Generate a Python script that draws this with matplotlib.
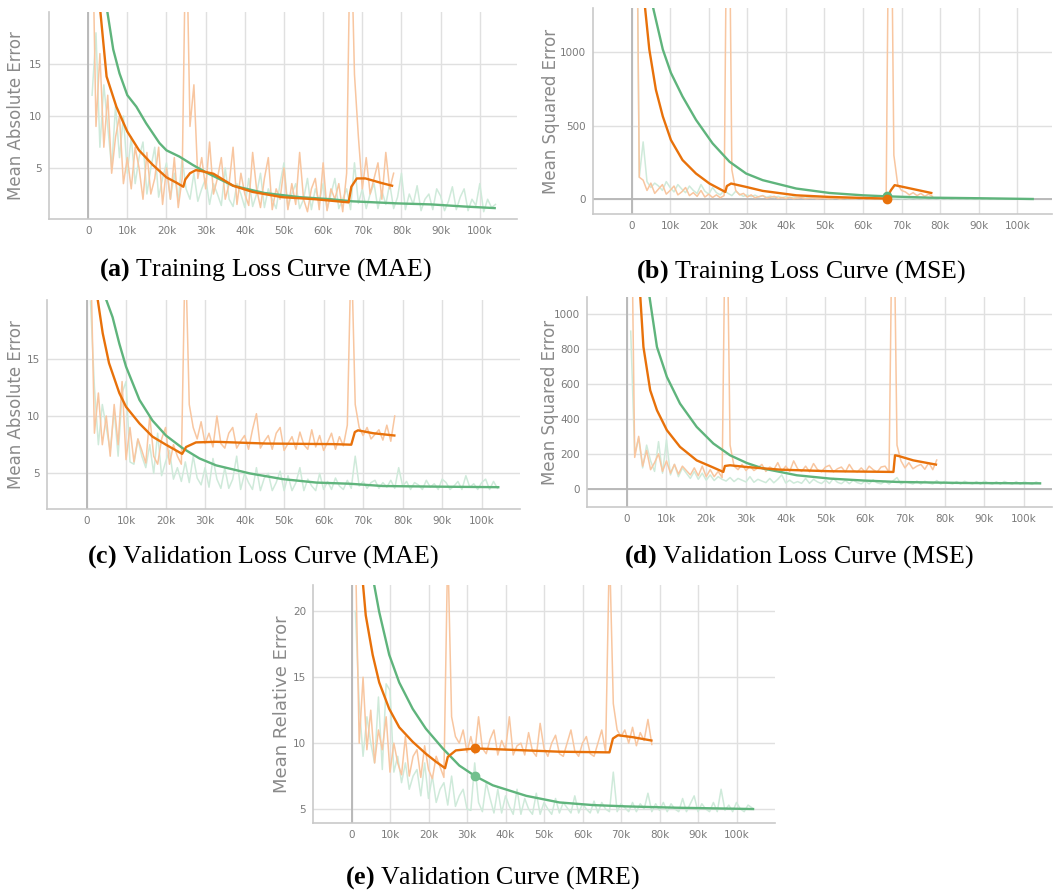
import matplotlib

matplotlib.use("Agg")
import matplotlib.pyplot as plt

plt.rcParams["mathtext.fontset"] = "custom"
plt.rcParams["mathtext.rm"] = "Liberation Serif"
plt.rcParams["mathtext.bf"] = "Liberation Serif:bold"

ORANGE = "#e8710a"
GREEN = "#5fb47c"
ORANGE_RAW = "#f8c6a0"
GREEN_RAW = "#cfeada"

# logged steps of the raw curves (thousands of steps)
orange_raw_steps = list(range(1, 79))
green_raw_steps = list(range(1, 105))

# ---- (a) training MAE ----
a_orange_raw = [
    30, 9, 16, 7, 12, 4.5, 8, 10, 3.5, 6,
    3, 7, 5, 2, 6.5, 2.5, 4, 7, 1.5, 5,
    2, 6, 1.2, 4, 30, 9, 13, 4, 6, 3,
    7.5, 2.5, 4, 6, 2, 3.5, 7, 1.5, 4.5, 2.5,
    1.4, 6.5, 3, 1.2, 4, 6, 1.0, 3, 2, 5,
    1, 3.5, 1.5, 6.5, 2, 0.8, 3, 4, 1, 5.5,
    0.9, 3, 2, 3.5, 0.8, 4.5, 30, 14, 8, 3,
    6, 2.5, 4, 5.5, 2, 6.5, 3, 4.5,
]
a_green_raw = [
    12, 18, 7, 13, 9, 5, 11, 6, 10, 4.5,
    8, 3.5, 6, 7.5, 2.5, 5, 7, 2.2, 4, 5.5,
    2, 4.5, 1.8, 6, 3, 2, 4.5, 1.8, 3, 4,
    1.5, 3.5, 2.5, 1.4, 5, 2, 1.3, 3.5, 2.5, 1.2,
    4, 1.3, 2.5, 4.5, 1.2, 3, 2, 1.1, 3.5, 5.5,
    1.2, 2.5, 3.5, 1.1, 2, 4, 1.0, 3, 1.8, 3.5,
    1.0, 2.5, 4, 1.1, 2, 3, 1.0, 5.5, 1.6, 3,
    1.1, 2.5, 3.5, 1.1, 2.8, 1.5, 3.5, 1.1, 2.2, 4.5,
    1.0, 2.5, 1.5, 3.3, 0.9, 2, 2.5, 1.0, 3, 2.3,
    0.9, 1.8, 3.2, 1.0, 2.2, 3, 0.9, 2, 1.4, 3.5,
    0.8, 2, 1.2, 1.5,
]
a_orange_steps = [2.5, 3.0, 4.7, 7.2, 10, 13, 16.5, 20, 22.5, 24.3, 24.8, 26, 27.5,
                  29, 32, 37, 42, 49.5, 58, 66.5, 67.2, 68.6, 70.8, 75, 77.6]
a_orange_vals = [26, 20.5, 13.8, 10.9, 8.5, 6.7, 5.3, 4.1, 3.6, 3.2, 3.9, 4.5, 4.8,
                 4.7, 4.45, 3.3, 2.7, 2.2, 2.0, 1.7, 3.2, 4.0, 4.0, 3.55, 3.3]
a_green_steps = [3.5, 4.7, 6.4, 8, 10, 12.3, 14.8, 18.2, 20, 23.3, 26.7, 30, 37, 45,
                 54, 62, 67.4, 79, 87.7, 96, 103.8]
a_green_vals = [26, 20.5, 16.4, 14.1, 12, 10.9, 9.3, 7.4, 6.7, 6.1, 5.3, 4.6, 3.3, 2.6,
                2.2, 2.0, 1.8, 1.6, 1.5, 1.3, 1.15]

# ---- (b) training MSE ----
b_orange_raw = [
    3000, 150, 130, 60, 110, 40, 70, 100, 35, 60,
    90, 30, 50, 80, 25, 45, 20, 60, 15, 35,
    12, 30, 10, 25, 3000, 200, 60, 30, 40, 15,
    30, 10, 18, 25, 8, 14, 20, 6, 12, 5,
    14, 4, 9, 12, 4, 7, 10, 3, 6, 8,
    3, 6, 8, 2, 5, 7, 2, 4, 6, 2,
    5, 2, 4, 6, 1, 4, 3000, 300, 100, 60,
    50, 30, 45, 25, 40, 20, 35, 20,
]
b_green_raw = [
    3000, 150, 390, 120, 80, 110, 90, 60, 120, 80,
    50, 100, 70, 45, 90, 60, 40, 100, 55, 35,
    80, 45, 30, 60, 40, 25, 55, 35, 20, 30,
    18, 28, 15, 25, 14, 22, 12, 20, 10, 18,
    10, 16, 9, 15, 8, 14, 7, 12, 7, 11,
    9, 5, 8, 5, 8, 4, 7, 4, 7, 4,
    6, 3, 6, 3, 6, 3, 5, 3, 5, 3,
    5, 2, 5, 2, 4, 2, 4, 2, 4, 2,
    4, 2, 4, 2, 3, 2, 3, 1, 3, 1,
    3, 1, 3, 1, 3, 1, 2, 1, 2, 1,
    2, 1, 2, 1,
]
b_orange_steps = [2.5, 3.5, 4.6, 6.3, 8.1, 10.2, 13.2, 16.7, 20.2, 24.3, 24.7, 25.8,
                  29.7, 34, 42.7, 51.3, 60, 66.2, 67.2, 68.2, 70.4, 77.7]
b_orange_vals = [2500, 1300, 1018, 745, 563, 403, 267, 175, 107, 50, 90, 107,
                 84, 57, 27, 16, 9, 5, 60, 96, 84, 43]
b_green_steps = [4.5, 5.6, 8.1, 10.2, 13.2, 16.7, 21, 25.4, 29.7, 34, 42.7, 51.3,
                 60, 66.2, 77.3, 90.3, 104]
b_green_vals = [1700, 1300, 1018, 859, 699, 540, 380, 255, 175, 130, 73, 43,
                27, 20, 11, 7, 2]
b_dot_step = 66.2
b_dot_orange = 5
b_dot_green = 20

# ---- (c) validation MAE ----
c_orange_raw = [
    25, 8.5, 12, 7.5, 10, 6.5, 11, 7.5, 13, 6.2,
    9, 6, 8, 7, 5.9, 10, 6.5, 5.8, 8, 9,
    5.8, 7.5, 6.5, 5.8, 25, 11, 9, 8, 9.5, 7.6,
    8.5, 7.3, 10, 7.6, 7.2, 8.5, 9, 7.2, 7.8, 8.3,
    7.1, 8.8, 10.2, 7.2, 7.8, 8.3, 7.1, 8.5, 9, 7,
    7.6, 8.2, 7.1, 8.6, 7.5, 7.1, 8.8, 7.3, 8.3, 7,
    7.7, 8.5, 7.1, 8.2, 7.4, 9.2, 25, 11, 9, 8.3,
    9, 8, 8.4, 8.8, 7.9, 9.2, 7.8, 10,
]
c_green_raw = [
    20, 12.5, 7.5, 11, 9, 7, 10.5, 6.5, 12, 13,
    6, 5.8, 8, 6.5, 5.5, 7.5, 5, 8.5, 4.8, 6,
    7, 4.5, 5.5, 4.3, 6, 4.2, 6.5, 4.6, 4.0, 5.5,
    3.8, 6.3, 4.5, 3.7, 5.5, 3.7, 4.5, 6.5, 3.6, 5,
    4.2, 3.6, 5.5, 3.5, 4.6, 5, 3.5, 4.2, 5.2, 3.5,
    4.8, 3.5, 4.2, 5.5, 3.5, 4.5, 3.9, 3.5, 5, 3.6,
    4.3, 3.6, 4.6, 3.9, 3.6, 4.4, 3.7, 6.5, 3.9, 4.3,
    3.7, 4.2, 4.4, 3.7, 4.2, 3.8, 4.4, 3.7, 5.5, 3.9,
    4.3, 3.6, 4.2, 4.0, 3.6, 4.4, 3.8, 4.1, 3.6, 4.5,
    4.2, 3.6, 3.9, 4.3, 3.6, 4.8, 3.8, 4.1, 3.6, 4.2,
    4.5, 3.6, 4.3, 3.7,
]
c_orange_steps = [2.0, 2.8, 4.1, 5.7, 8.3, 10, 13.4, 16.7, 20.1, 24.2, 25.2, 27.7,
                  32.8, 45.5, 62.4, 67.0, 67.9, 68.7, 72.5, 77.9]
c_orange_vals = [26, 20.2, 17.2, 14.6, 12, 10.8, 9.35, 8.2, 7.5, 6.7, 7.3, 7.7,
                 7.75, 7.6, 7.55, 7.5, 8.6, 8.75, 8.5, 8.3]
c_green_steps = [4.0, 4.9, 6.6, 8.3, 10, 13.4, 16.7, 20.1, 24.3, 28.6, 32.8, 41.3,
                 49.7, 58.2, 66.6, 75, 87.7, 104.2]
c_green_vals = [23, 20.2, 18.6, 16.3, 14.3, 11.4, 9.6, 8.3, 7.2, 6.3, 5.7, 5.0,
                4.5, 4.2, 4.1, 3.9, 3.85, 3.8]

# ---- (d) validation MSE ----
d_orange_raw = [
    2000, 180, 300, 130, 220, 110, 150, 200, 100, 160,
    90, 140, 85, 130, 105, 80, 120, 75, 130, 70,
    110, 70, 100, 65, 2000, 250, 130, 110, 140, 105,
    130, 105, 120, 140, 100, 125, 110, 150, 100, 130,
    100, 160, 115, 100, 130, 98, 145, 110, 98, 125,
    135, 97, 115, 125, 97, 140, 105, 97, 120, 96,
    130, 110, 96, 125, 130, 96, 2000, 250, 160, 120,
    150, 115, 130, 140, 112, 150, 110, 165,
]
d_green_raw = [
    900, 200, 290, 120, 250, 160, 100, 270, 90, 280,
    80, 140, 70, 120, 90, 60, 100, 55, 90, 50,
    80, 48, 70, 55, 45, 65, 42, 60, 50, 40,
    70, 38, 55, 45, 36, 60, 35, 55, 80, 34,
    50, 33, 42, 32, 60, 32, 55, 40, 31, 50,
    31, 60, 38, 30, 48, 30, 50, 36, 29, 45,
    29, 52, 35, 29, 44, 28, 46, 65, 28, 42,
    35, 28, 45, 28, 44, 34, 28, 48, 28, 43,
    33, 28, 42, 28, 44, 34, 28, 42, 27, 45,
    33, 27, 41, 27, 43, 34, 27, 42, 27, 41,
    33, 26, 40, 30,
]
d_orange_steps = [2.6, 3.4, 4.2, 5.9, 7.6, 10.1, 13.4, 17.6, 21.8, 24.3, 24.7, 26,
                  30.2, 38.6, 51.2, 67.1, 67.5, 68.4, 72.1, 77.8]
d_orange_vals = [1400, 1100, 810, 563, 449, 335, 240, 163, 122, 97, 131, 135,
                 125, 110, 101, 97, 192, 188, 163, 139]
d_green_steps = [5.0, 5.7, 7.6, 10.1, 13.4, 17.6, 21.8, 26, 30.2, 34.4, 42.8, 51.2,
                 59.6, 68, 84.7, 104]
d_green_vals = [1300, 1100, 810, 639, 487, 354, 259, 192, 148, 116, 78, 59,
                48, 40, 34, 32]

# ---- (e) validation MRE ----
e_orange_raw = [
    25, 10, 15, 9.5, 12.5, 8.5, 11, 9.5, 12, 7.8,
    10, 8.5, 7.6, 10.5, 7.5, 9, 9.5, 7.4, 9.8, 8,
    7.3, 9, 8.2, 7.4, 25, 12, 10.5, 10, 11, 9.3,
    10.5, 9.2, 12, 9.6, 9.2, 10.3, 11, 9.1, 10.2, 9.5,
    12, 9.1, 9.8, 10, 9.1, 10.8, 9.4, 9, 11.5, 9.6,
    9, 10, 10.6, 9.2, 9, 10, 11, 9.4, 9, 10,
    10.5, 9.2, 9, 10, 11, 9.3, 25, 13, 11, 10.5,
    11, 10, 11.2, 9.8, 10.8, 10.2, 11.8, 9.9,
]
e_green_raw = [
    20, 13, 9, 12, 10, 8.5, 13.5, 8, 14.5, 14,
    7.8, 9, 7, 8.5, 6.5, 7.5, 8, 6, 8.5, 5.8,
    7.5, 5.5, 6.5, 7, 5.3, 7.5, 5.2, 6, 6.5, 5,
    4.9, 8.5, 5.5, 4.8, 7, 5.8, 4.7, 6.5, 4.7, 6,
    5.2, 4.6, 6.5, 4.6, 5.8, 5.0, 4.6, 6.2, 4.6, 5.5,
    5.0, 4.6, 5.8, 4.7, 5.5, 5.1, 4.7, 6.0, 4.7, 5.4,
    5.0, 4.7, 5.6, 4.7, 5.5, 5.0, 4.8, 7.8, 4.8, 5.4,
    5.1, 4.8, 5.5, 4.8, 5.4, 5.0, 6.2, 4.8, 5.4, 4.9,
    5.5, 4.8, 5.4, 5.0, 4.8, 5.8, 4.8, 5.4, 6.0, 4.8,
    5.4, 5.0, 4.8, 5.5, 4.8, 6.5, 4.9, 5.3, 4.8, 5.5,
    5.0, 4.8, 5.3, 5.1,
]
e_orange_steps = [2.5, 3.0, 3.7, 5.5, 7.2, 9.8, 12.4, 15.9, 19.3, 21.9, 24.3, 25.0,
                  27.1, 32.1, 41, 54, 67, 67.9, 69.2, 73.1, 77.9]
e_orange_vals = [25, 22, 19.7, 16.7, 14.6, 12.6, 11.2, 10.1, 9.2, 8.6, 8.1, 8.95,
                 9.45, 9.6, 9.5, 9.35, 9.3, 10.35, 10.6, 10.45, 10.2]
e_green_steps = [5.3, 5.9, 7.2, 9.8, 12.4, 15.9, 19.3, 23.7, 28, 32.1, 36.7, 45.4,
                 54, 62.7, 71.4, 84.4, 104.3]
e_green_vals = [24, 22, 19.95, 16.7, 14.6, 12.6, 11.1, 9.6, 8.3, 7.5, 6.8, 6.0,
                5.5, 5.3, 5.2, 5.1, 5.0]
e_dot_step = 32.1
e_dot_orange = 9.6
e_dot_green = 7.5

x_ticks = [0, 10, 20, 30, 40, 50, 60, 70, 80, 90, 100]
x_tick_labels = ["0"] + [f"{t}k" for t in x_ticks[1:]]

W, H = 1059, 893


def _panel(fig, box, raws, smooths, ylim, yticks, ylabel, label_x, xright,
           zero_h=False, label_size=12):
    left, top, right, bottom = box
    ax = fig.add_axes([left / W, 1 - bottom / H, (right - left) / W, (bottom - top) / H])
    og_raw, gr_raw = raws
    (os_x, os_y), (gs_x, gs_y) = smooths
    ax.plot(green_raw_steps, gr_raw, color=GREEN_RAW, lw=1.1, zorder=2)
    ax.plot(orange_raw_steps, og_raw, color=ORANGE_RAW, lw=1.1, zorder=3)
    ax.plot(gs_x, gs_y, color=GREEN, lw=1.7, zorder=4)
    ax.plot(os_x, os_y, color=ORANGE, lw=1.7, zorder=5)
    ax.axvline(0, color="#b5b5b5", lw=1.3, zorder=1)
    if zero_h:
        ax.axhline(0, color="#b5b5b5", lw=1.3, zorder=1)
    ax.set_xlim(-10, xright)
    ax.set_ylim(*ylim)
    ax.set_xticks(x_ticks)
    ax.set_xticklabels(x_tick_labels)
    ax.set_yticks(yticks)
    ax.grid(True, color="#e0e0e0", lw=1.0, zorder=0)
    ax.set_axisbelow(True)
    for side in ("top", "right"):
        ax.spines[side].set_visible(False)
    for side in ("left", "bottom"):
        ax.spines[side].set_color("#c9c9c9")
        ax.spines[side].set_linewidth(1.2)
    ax.tick_params(length=0, labelsize=7.5, labelcolor="#7a7a7a", pad=5)
    ax.set_ylabel(ylabel, fontsize=label_size, color="#8a8a8a")
    ax.yaxis.set_label_coords(label_x, 0.5)
    return ax


def main() -> int:
    fig = plt.figure(figsize=(W / 100, H / 100), dpi=100)

    _panel(fig, (49, 12, 517, 219), (a_orange_raw, a_green_raw),
           ((a_orange_steps, a_orange_vals), (a_green_steps, a_green_vals)),
           (0.1, 20), [5, 10, 15], "Mean Absolute Error", -0.051, 109.5)

    ax_b = _panel(fig, (593, 8, 1052, 214), (b_orange_raw, b_green_raw),
                  ((b_orange_steps, b_orange_vals), (b_green_steps, b_green_vals)),
                  (-100, 1300), [0, 500, 1000], "Mean Squared Error", -0.072, 109,
                  zero_h=True)
    ax_b.plot([b_dot_step], [b_dot_green], "o", color=GREEN, ms=6, zorder=6)
    ax_b.plot([b_dot_step], [b_dot_orange], "o", color=ORANGE, ms=6, zorder=7)

    _panel(fig, (47, 300, 520, 509), (c_orange_raw, c_green_raw),
           ((c_orange_steps, c_orange_vals), (c_green_steps, c_green_vals)),
           (1.9, 20.1), [5, 10, 15], "Mean Absolute Error", -0.047, 109.7)

    _panel(fig, (587, 297, 1052, 507), (d_orange_raw, d_green_raw),
           ((d_orange_steps, d_orange_vals), (d_green_steps, d_green_vals)),
           (-103, 1095), [0, 200, 400, 600, 800, 1000], "Mean Squared Error", -0.060, 107,
           zero_h=True)

    ax_e = _panel(fig, (313, 585, 775, 823), (e_orange_raw, e_green_raw),
                  ((e_orange_steps, e_orange_vals), (e_green_steps, e_green_vals)),
                  (3.94, 22), [5, 10, 15, 20], "Mean Relative Error", -0.048, 110,
                  label_size=13)
    ax_e.plot([e_dot_step], [e_dot_orange], "o", color=ORANGE, ms=6, zorder=7)
    ax_e.plot([e_dot_step], [e_dot_green], "o", color="#72c08e", ms=6, zorder=7)

    captions = [
        (265, 270, r"$\mathbf{(a)}$ Training Loss Curve (MAE)"),
        (801, 272, r"$\mathbf{(b)}$ Training Loss Curve (MSE)"),
        (263, 557, r"$\mathbf{(c)}$ Validation Loss Curve (MAE)"),
        (799, 557, r"$\mathbf{(d)}$ Validation Loss Curve (MSE)"),
        (492, 878, r"$\mathbf{(e)}$ Validation Curve (MRE)"),
    ]
    for cx, cy, text in captions:
        fig.text(cx / W, 1 - cy / H, text, ha="center", va="center",
                 fontsize=18.6, family="Liberation Serif")

    fig.savefig("out.png", dpi=100)
    plt.close(fig)
    return 0


if __name__ == "__main__":
    raise SystemExit(main())
